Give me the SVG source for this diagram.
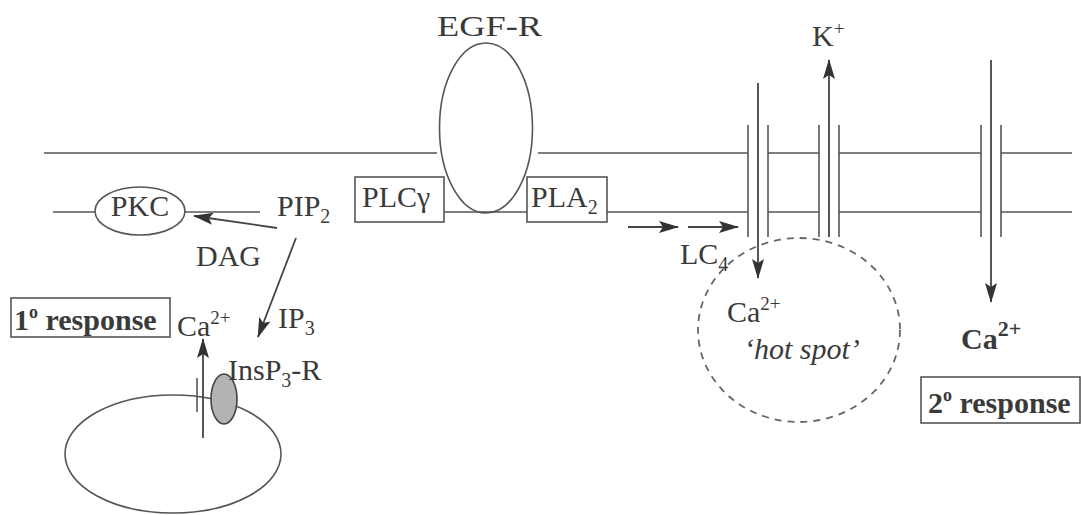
<svg xmlns="http://www.w3.org/2000/svg" width="1081" height="515" viewBox="0 0 1081 515">
<style>
.ln{stroke:#555;stroke-width:1.6;fill:none}
.t{font-family:"Liberation Serif","Times New Roman","DejaVu Serif",serif;fill:#3a3a3a;font-size:30px}
.b{font-weight:bold}
.box{fill:none;stroke:#555;stroke-width:1.6}
.ar{stroke:#444;stroke-width:1.8;fill:none}
</style>
<defs>
<marker id="ahL" viewBox="0 0 10 10" refX="9.5" refY="5" markerWidth="20" markerHeight="20" markerUnits="userSpaceOnUse" orient="auto">
<path d="M0,2 L10,5 L0,8 L2,5 z" fill="#333"/>
</marker>
</defs>
<rect width="1081" height="515" fill="#fff"/>

<g id="membrane">
<path class="ln" d="M44,153 H437 M538,153 H748 M768,153 H819 M839,153 H981 M1001,153 H1072"/>
<path class="ln" d="M53,212 H95 M185,212 H260 M444,212 H527 M607,212 H748 M768,212 H819 M839,212 H981 M1001,212 H1072"/>
</g>

<g id="egfr">
<ellipse class="ln" cx="486" cy="128" rx="46.5" ry="85"/>
<text class="t" x="437" y="36" font-size="37" textLength="105" lengthAdjust="spacingAndGlyphs">EGF-R</text>
</g>

<g id="plcg">
<rect class="box" x="355" y="177" width="89" height="45" fill="#fff"/>
<text class="t" x="362" y="207">PLCγ</text>
</g>

<g id="pla2">
<rect class="box" x="527" y="177" width="80" height="45" fill="#fff"/>
<text class="t" x="531" y="207">PLA<tspan font-size="20" dy="7">2</tspan></text>
</g>

<g id="pkc">
<ellipse class="ln" cx="140" cy="211" rx="45" ry="24"/>
<text class="t" x="140" y="216" text-anchor="middle">PKC</text>
</g>

<g id="pip2">
<text class="t" x="277" y="216">PIP<tspan font-size="20" dy="7">2</tspan></text>
</g>

<g id="dag"><text class="t" x="196" y="266">DAG</text></g>
<g id="ip3"><text class="t" x="278" y="328">IP<tspan font-size="20" dy="7">3</tspan></text></g>

<g id="resp1">
<rect class="box" x="11" y="298" width="159" height="39"/>
<text class="t b" x="14" y="330" font-size="29">1<tspan font-size="18" dy="-12">o</tspan><tspan dy="12"> response</tspan></text>
</g>

<g id="ca-left"><text class="t" x="177" y="336">Ca<tspan font-size="19" dy="-12">2+</tspan></text></g>

<g id="er">
<ellipse class="ln" cx="173" cy="454" rx="108" ry="59"/>
<line class="ln" x1="197" y1="378" x2="197" y2="412"/>
</g>

<g id="insp3r">
<ellipse cx="224" cy="399" rx="13" ry="25" fill="#b3b3b3" stroke="#444" stroke-width="1.6"/>
<text class="t" x="228" y="380">InsP<tspan font-size="20" dy="7">3</tspan><tspan dy="-7">-R</tspan></text>
</g>

<g id="ca-channel">
<line class="ln" x1="748" y1="125" x2="748" y2="237"/>
<line class="ln" x1="768" y1="125" x2="768" y2="237"/>
</g>

<g id="k-channel">
<line class="ln" x1="819" y1="125" x2="819" y2="237"/>
<line class="ln" x1="839" y1="125" x2="839" y2="237"/>
<text class="t" x="812" y="46">K<tspan font-size="19" dy="-11">+</tspan></text>
</g>

<g id="ca-channel2">
<line class="ln" x1="981" y1="125" x2="981" y2="237"/>
<line class="ln" x1="1001" y1="125" x2="1001" y2="237"/>
</g>

<g id="lc4"><text class="t" x="680" y="264">LC<tspan font-size="20" dy="7">4</tspan></text></g>

<g id="hotspot">
<ellipse cx="799" cy="330" rx="101" ry="92" fill="none" stroke="#666" stroke-width="1.8" stroke-dasharray="7,6"/>
<text class="t" x="727" y="322">Ca<tspan font-size="19" dy="-12">2+</tspan></text>
<text class="t" x="744" y="359" font-style="italic">‘hot spot’</text>
</g>

<g id="ca-right"><text class="t b" x="961" y="349" font-size="34">Ca<tspan font-size="22" dy="-13">2+</tspan></text></g>

<g id="resp2">
<rect class="box" x="921" y="377" width="159" height="46"/>
<text class="t b" x="928" y="413" font-size="29">2<tspan font-size="18" dy="-12">o</tspan><tspan dy="12"> response</tspan></text>
</g>

<g id="connectors">
<line class="ar" x1="277" y1="228" x2="194" y2="216" marker-end="url(#ahL)"/>
<line class="ar" x1="296" y1="238" x2="258" y2="337" marker-end="url(#ahL)"/>
<line class="ar" x1="203" y1="438" x2="203" y2="339" marker-end="url(#ahL)"/>
<line class="ar" x1="628" y1="227" x2="678" y2="227" marker-end="url(#ahL)"/>
<line class="ar" x1="688" y1="227" x2="738" y2="227" marker-end="url(#ahL)"/>
<line class="ar" x1="758" y1="83" x2="758" y2="278" marker-end="url(#ahL)"/>
<line class="ar" x1="829" y1="237" x2="829" y2="60" marker-end="url(#ahL)"/>
<line class="ar" x1="991" y1="60" x2="991" y2="302" marker-end="url(#ahL)"/>
</g>
</svg>
